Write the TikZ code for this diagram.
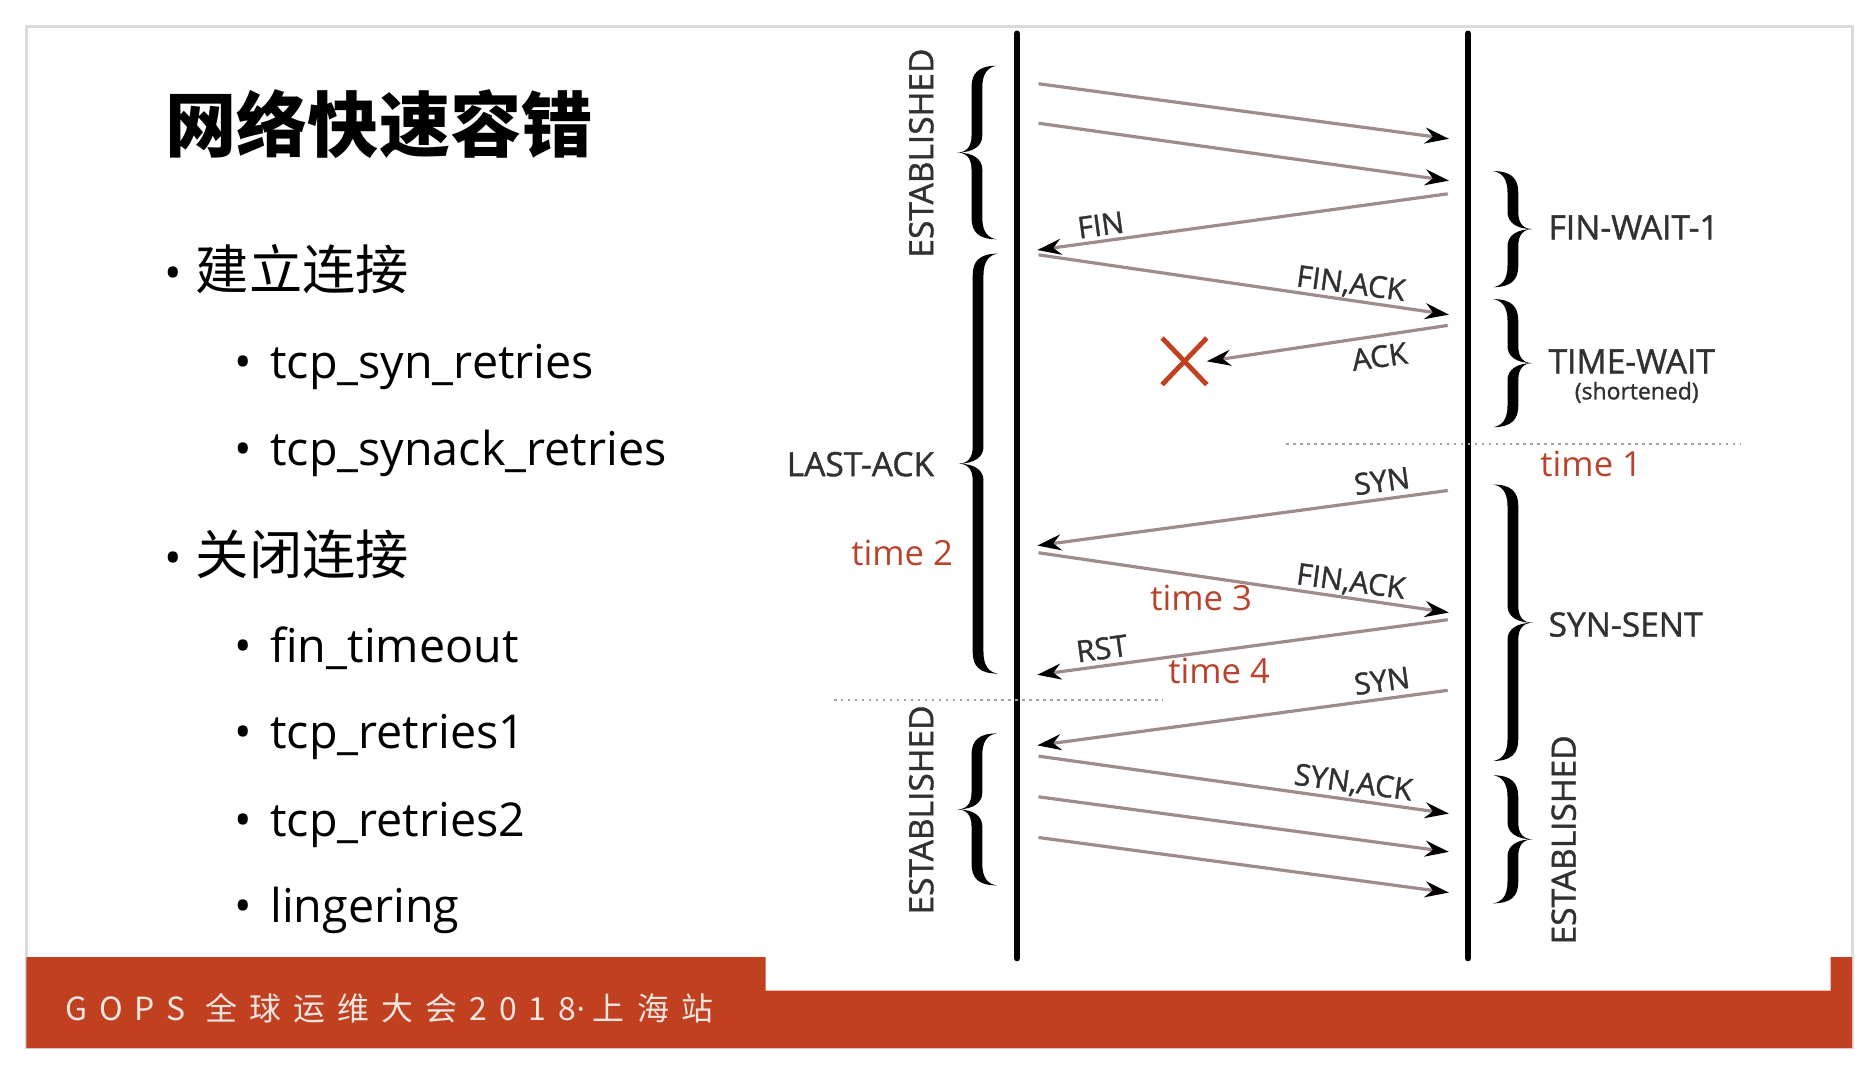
\documentclass[tikz,border=0pt]{standalone}
\usepackage{fontspec}
\setmainfont{Open Sans}
\newfontfamily\cjk{Noto Sans CJK SC}
\newfontfamily\cjkfoot[LetterSpace=38]{Noto Sans CJK SC}
\newfontfamily\latfoot{Open Sans}
\newfontfamily\dgm[FakeBold=1.2]{Open Sans}
\usetikzlibrary{arrows.meta,shapes.misc}
\definecolor{gopsred}{RGB}{192,64,32}
\definecolor{framegray}{RGB}{222,218,218}
\definecolor{msggray}{RGB}{158,140,140}
\definecolor{dotgray}{RGB}{170,160,160}
\definecolor{darktxt}{RGB}{50,48,48}
\definecolor{timered}{RGB}{184,68,46}
\definecolor{footwhite}{RGB}{238,228,224}
\newcommand{\brc}[4]{%
\pgfmathsetmacro{\bm}{(#2+#3)/2}%
\fill[black] (#1,#2)
 .. controls ({#1+(#4)*15},#2) and ({#1+(#4)*21},#2+6) .. ({#1+(#4)*21},#2+18)
 -- ({#1+(#4)*21},\bm-14)
 .. controls ({#1+(#4)*21},\bm-4) and ({#1+(#4)*26},\bm) .. ({#1+(#4)*33},\bm)
 .. controls ({#1+(#4)*26},\bm) and ({#1+(#4)*21},\bm+4) .. ({#1+(#4)*21},\bm+14)
 -- ({#1+(#4)*21},#3-18)
 .. controls ({#1+(#4)*21},#3-6) and ({#1+(#4)*15},#3) .. (#1,#3)
 .. controls ({#1+(#4)*7},#3-1) and ({#1+(#4)*12},#3-6) .. ({#1+(#4)*12},#3-18)
 -- ({#1+(#4)*12},\bm+14)
 .. controls ({#1+(#4)*12},\bm+6) and ({#1+(#4)*19},\bm) .. ({#1+(#4)*33},\bm)
 .. controls ({#1+(#4)*19},\bm) and ({#1+(#4)*12},\bm-6) .. ({#1+(#4)*12},\bm-14)
 -- ({#1+(#4)*12},#2+18)
 .. controls ({#1+(#4)*12},#2+6) and ({#1+(#4)*7},#2+1) .. (#1,#2) -- cycle;}
\begin{document}
\begin{tikzpicture}[x=0.6pt,y=-0.6pt,
  msg/.style={draw=msggray, line width=1.6pt, -{Stealth[length=12pt,width=8pt,color=black]}},
  life/.style={draw=black, line width=3pt, line cap=round},
  dotline/.style={draw=dotgray, line width=1.3pt, dash pattern=on 1.3pt off 2.2pt},
  state/.style={inner sep=0pt, text=darktxt, font=\dgm\fontsize{16.8}{18}\selectfont},
  lbl/.style={inner sep=0pt, text=darktxt, font=\dgm\fontsize{15}{16}\selectfont},
  tlbl/.style={inner sep=0pt, text=timered, font=\fontsize{17.4}{19}\selectfont},
  bigitem/.style={inner sep=0pt, anchor=west, text=black, font=\cjk\fontsize{26.7}{30}\selectfont},
  smallitem/.style={inner sep=0pt, anchor=base west, text=black, font=\fontsize{23.4}{26}\selectfont},
]
\useasboundingbox (0,0) rectangle (1568,899);
\fill[white] (0,0) rectangle (1568,899);
% slide frame
\draw[framegray, line width=1.4pt] (22,22) rectangle (1548,876);
% footer band
\fill[gopsred] (22,800) -- (640,800) -- (640,828) -- (1530,828) -- (1530,800) -- (1548,800) -- (1548,876) -- (22,876) -- cycle;
\node[inner sep=0pt, anchor=west, text=footwhite] (foot) at (54,843) {\cjkfoot\fontsize{16}{18}\selectfont GOPS 全球运维大会2018{\latfoot·}\hspace{4pt}上海站};

% title and list
\node[inner sep=0pt, anchor=west, text=black] (title) at (138,104) {\cjk\bfseries\fontsize{35.7}{40}\selectfont 网络快速容错};
\node[bigitem] (b1) at (137,225) {{\rmfamily\fontsize{23.4}{26}\selectfont •}\hspace{7pt}建立连接};
\node[smallitem] (s1) at (196,316) {•\hspace{9pt}tcp\_syn\_retries};
\node[smallitem] (s2) at (196,389) {•\hspace{9pt}tcp\_synack\_retries};
\node[bigitem] (b2) at (137,463) {{\rmfamily\fontsize{23.4}{26}\selectfont •}\hspace{7pt}关闭连接};
\node[smallitem] (s3) at (196,554) {•\hspace{9pt}fin\_timeout};
\node[smallitem] (s4) at (196,626) {•\hspace{9pt}tcp\_retries1};
\node[smallitem] (s5) at (196,699) {•\hspace{9pt}tcp\_retries2};
\node[smallitem] (s6) at (196,771) {•\hspace{9pt}lingering};

% lifelines
\coordinate (Ltop) at (850,28); \coordinate (Lbot) at (850,801);
\coordinate (Rtop) at (1227,28); \coordinate (Rbot) at (1227,801);
\draw[life] (Ltop) -- (Lbot);
\draw[life] (Rtop) -- (Rbot);

% dotted time lines
\coordinate (d1a) at (1075,371); \coordinate (d1b) at (1455,371);
\coordinate (d2a) at (697,585); \coordinate (d2b) at (972,585);
\draw[dotline] (d1a) -- (d1b);
\draw[dotline] (d2a) -- (d2b);

% messages
\coordinate (m1s) at (868,70);  \coordinate (m1e) at (1211,116);
\coordinate (m2s) at (868,103); \coordinate (m2e) at (1211,151);
\coordinate (m3s) at (1210,162); \coordinate (m3e) at (867,209);
\coordinate (m4s) at (868,213); \coordinate (m4e) at (1211,263);
\coordinate (m5s) at (1210,272);
\coordinate (m6s) at (1210,410); \coordinate (m6e) at (867,456);
\coordinate (m7s) at (868,462); \coordinate (m7e) at (1211,512);
\coordinate (m8s) at (1210,518); \coordinate (m8e) at (867,564);
\coordinate (m9s) at (1210,577); \coordinate (m9e) at (867,623);
\coordinate (m10s) at (868,632); \coordinate (m10e) at (1211,680);
\coordinate (m11s) at (868,666); \coordinate (m11e) at (1211,712);
\coordinate (m12s) at (868,700); \coordinate (m12e) at (1211,746);

\node[cross out, draw=gopsred, line width=2.4pt, minimum width=20pt, minimum height=21pt, inner sep=0pt] (xmark) at (990,302) {};

\draw[msg] (m1s) -- (m1e);
\draw[msg] (m2s) -- (m2e);
\draw[msg] (m3s) -- (m3e);
\draw[msg] (m4s) -- (m4e);
\draw[msg] (m5s) -- (xmark.east);
\draw[msg] (m6s) -- (m6e);
\draw[msg] (m7s) -- (m7e);
\draw[msg] (m8s) -- (m8e);
\draw[msg] (m9s) -- (m9e);
\draw[msg] (m10s) -- (m10e);
\draw[msg] (m11s) -- (m11e);
\draw[msg] (m12s) -- (m12e);

% message labels
\node[lbl, rotate=7.8] (lfin) at (920,188) {FIN};
\node[lbl, rotate=-7.8] (lfa1) at (1129,238) {FIN,ACK};
\node[lbl, rotate=7.8] (lack) at (1153,298) {ACK};
\node[lbl, rotate=7.8] (lsyn1) at (1155,402) {SYN};
\node[lbl, rotate=-7.8] (lfa2) at (1129,487) {FIN,ACK};
\node[lbl, rotate=7.8] (lrst) at (921,542) {RST};
\node[lbl, rotate=7.8] (lsyn2) at (1155,569) {SYN};
\node[lbl, rotate=-7.8] (lsa) at (1131,655) {SYN,ACK};

% time labels
\node[tlbl] (t1) at (1330,388) {time 1};
\node[tlbl] (t2) at (754,462) {time 2};
\node[tlbl] (t3) at (1004,500) {time 3};
\node[tlbl] (t4) at (1019,561) {time 4};

% braces
\brc{833}{55}{200}{-1}
\brc{834}{212}{563}{-1}
\brc{833}{613}{740}{-1}
\brc{1248}{143}{240}{1}
\brc{1248}{250}{357}{1}
\brc{1248}{405}{636}{1}
\brc{1248}{648}{755}{1}

% state labels
\node[state, rotate=90] (est1) at (770,128) {ESTABLISHED};
\node[state, anchor=east] (lastack) at (781,388) {LAST-ACK};
\node[state, rotate=90] (est2) at (770,677) {ESTABLISHED};
\node[state, anchor=west] (fw1) at (1294,190) {FIN-WAIT-1};
\node[state, anchor=west] (tw) at (1294,302) {TIME-WAIT};
\node[inner sep=0pt, text=darktxt, font=\dgm\fontsize{11.5}{13}\selectfont] (short) at (1368,328) {(shortened)};
\node[state, anchor=west] (ss) at (1294,522) {SYN-SENT};
\node[state, rotate=90] (est3) at (1307,702) {ESTABLISHED};
\end{tikzpicture}
\end{document}
